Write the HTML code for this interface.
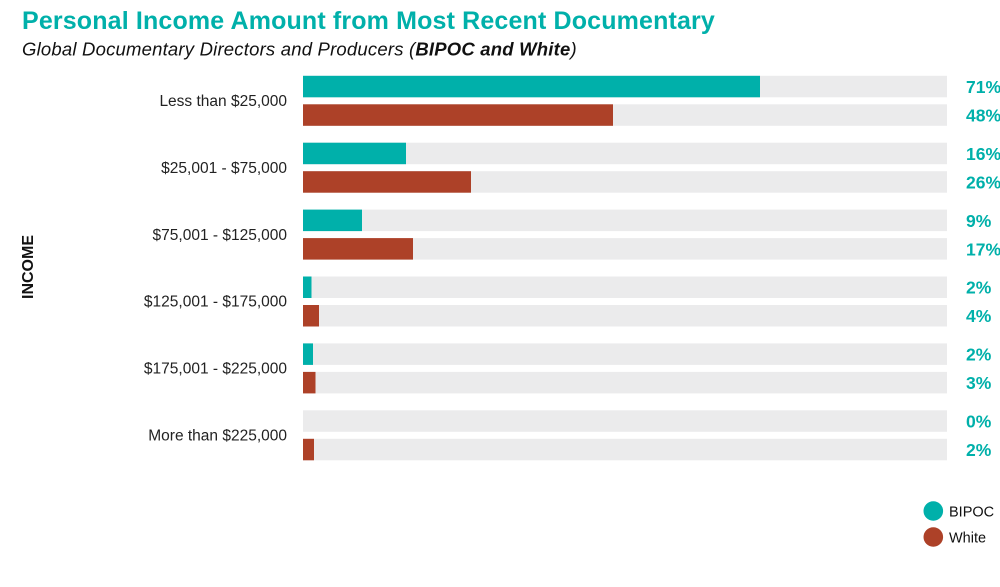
<!DOCTYPE html>
<html>
<head>
<meta charset="utf-8">
<style>
html,body{margin:0;padding:0;background:#fff;}
body{width:1000px;height:587px;overflow:hidden;}
svg{display:block;font-family:"Liberation Sans",Arial,sans-serif;}
</style>
</head>
<body>
<svg width="1000" height="587" viewBox="0 0 1000 587" xmlns="http://www.w3.org/2000/svg">
  <!-- Title -->
  <text x="22" y="29" font-size="25" font-weight="bold" fill="#00B0AA" letter-spacing="0.15">Personal Income Amount from Most Recent Documentary</text>
  <text x="22" y="55.5" font-size="18.5" font-style="italic" fill="#111" letter-spacing="0.2">Global Documentary Directors and Producers (<tspan font-weight="bold">BIPOC and White</tspan>)</text>

  <!-- Axis label -->
  <text x="0" y="0" transform="translate(33,267) rotate(-90)" text-anchor="middle" font-size="16" font-weight="bold" fill="#111">INCOME</text>

  <!-- Group 0 -->
  <g>
    <rect x="303" y="75.8" width="644" height="21.5" fill="#EBEBEC"/>
    <rect x="303" y="104.3" width="644" height="21.5" fill="#EBEBEC"/>
    <rect x="303" y="75.8" width="457" height="21.5" fill="#00B0AA"/>
    <rect x="303" y="104.3" width="310" height="21.5" fill="#AD4128"/>
    <text x="287" y="106" text-anchor="end" font-size="15.5" fill="#222">Less than $25,000</text>
    <text x="966" y="93" font-size="17.5" font-weight="bold" fill="#00B0AA">71%</text>
    <text x="966" y="121.5" font-size="17.5" font-weight="bold" fill="#00B0AA">48%</text>
  </g>
  <!-- Group 1 -->
  <g>
    <rect x="303" y="142.7" width="644" height="21.5" fill="#EBEBEC"/>
    <rect x="303" y="171.2" width="644" height="21.5" fill="#EBEBEC"/>
    <rect x="303" y="142.7" width="103" height="21.5" fill="#00B0AA"/>
    <rect x="303" y="171.2" width="168" height="21.5" fill="#AD4128"/>
    <text x="287" y="172.9" text-anchor="end" font-size="15.5" fill="#222">$25,001 - $75,000</text>
    <text x="966" y="159.9" font-size="17.5" font-weight="bold" fill="#00B0AA">16%</text>
    <text x="966" y="188.4" font-size="17.5" font-weight="bold" fill="#00B0AA">26%</text>
  </g>
  <!-- Group 2 -->
  <g>
    <rect x="303" y="209.6" width="644" height="21.5" fill="#EBEBEC"/>
    <rect x="303" y="238.1" width="644" height="21.5" fill="#EBEBEC"/>
    <rect x="303" y="209.6" width="59" height="21.5" fill="#00B0AA"/>
    <rect x="303" y="238.1" width="110" height="21.5" fill="#AD4128"/>
    <text x="287" y="239.8" text-anchor="end" font-size="15.5" fill="#222">$75,001 - $125,000</text>
    <text x="966" y="226.8" font-size="17.5" font-weight="bold" fill="#00B0AA">9%</text>
    <text x="966" y="255.3" font-size="17.5" font-weight="bold" fill="#00B0AA">17%</text>
  </g>
  <!-- Group 3 -->
  <g>
    <rect x="303" y="276.5" width="644" height="21.5" fill="#EBEBEC"/>
    <rect x="303" y="305" width="644" height="21.5" fill="#EBEBEC"/>
    <rect x="303" y="276.5" width="8.5" height="21.5" fill="#00B0AA"/>
    <rect x="303" y="305" width="16" height="21.5" fill="#AD4128"/>
    <text x="287" y="306.7" text-anchor="end" font-size="15.5" fill="#222">$125,001 - $175,000</text>
    <text x="966" y="293.7" font-size="17.5" font-weight="bold" fill="#00B0AA">2%</text>
    <text x="966" y="322.2" font-size="17.5" font-weight="bold" fill="#00B0AA">4%</text>
  </g>
  <!-- Group 4 -->
  <g>
    <rect x="303" y="343.4" width="644" height="21.5" fill="#EBEBEC"/>
    <rect x="303" y="371.9" width="644" height="21.5" fill="#EBEBEC"/>
    <rect x="303" y="343.4" width="10" height="21.5" fill="#00B0AA"/>
    <rect x="303" y="371.9" width="12.5" height="21.5" fill="#AD4128"/>
    <text x="287" y="373.6" text-anchor="end" font-size="15.5" fill="#222">$175,001 - $225,000</text>
    <text x="966" y="360.6" font-size="17.5" font-weight="bold" fill="#00B0AA">2%</text>
    <text x="966" y="389.1" font-size="17.5" font-weight="bold" fill="#00B0AA">3%</text>
  </g>
  <!-- Group 5 -->
  <g>
    <rect x="303" y="410.3" width="644" height="21.5" fill="#EBEBEC"/>
    <rect x="303" y="438.8" width="644" height="21.5" fill="#EBEBEC"/>
    <rect x="303" y="438.8" width="11" height="21.5" fill="#AD4128"/>
    <text x="287" y="440.5" text-anchor="end" font-size="15.5" fill="#222">More than $225,000</text>
    <text x="966" y="427.5" font-size="17.5" font-weight="bold" fill="#00B0AA">0%</text>
    <text x="966" y="456" font-size="17.5" font-weight="bold" fill="#00B0AA">2%</text>
  </g>

  <!-- Legend -->
  <circle cx="933.3" cy="511" r="9.8" fill="#00B0AA"/>
  <circle cx="933.3" cy="537" r="9.8" fill="#AD4128"/>
  <text x="949" y="516.5" font-size="14.5" fill="#111">BIPOC</text>
  <text x="949" y="542.5" font-size="14.5" fill="#111">White</text>
</svg>
</body>
</html>
